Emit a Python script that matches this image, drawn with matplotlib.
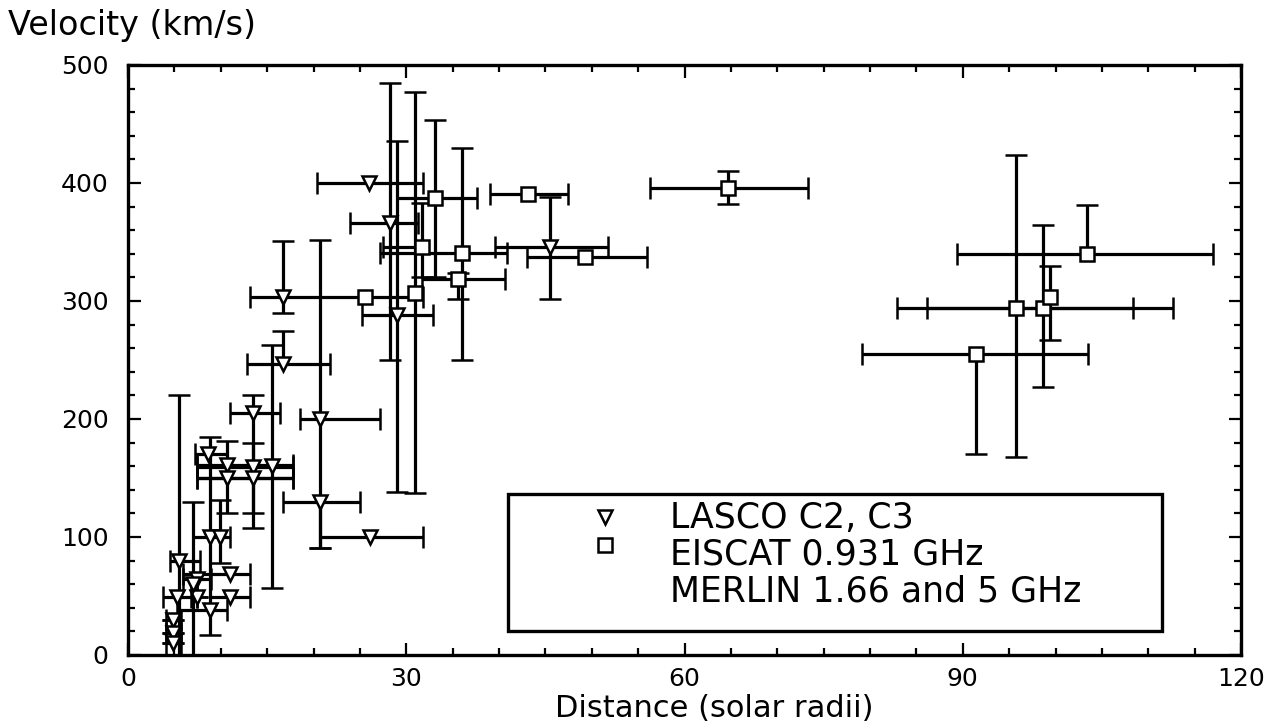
import numpy as np
import matplotlib
matplotlib.use("Agg")
import matplotlib.pyplot as plt
from matplotlib.lines import Line2D
from matplotlib.patches import Rectangle
from matplotlib.ticker import MultipleLocator

# LASCO C2, C3 (triangles): distance, velocity, asymmetric errors
lasco_x = [26.0, 28.2, 29.0, 45.5, 16.7, 16.7, 20.7, 13.5, 13.5, 13.5, 10.7, 10.7,
           15.5, 20.7, 26.1, 5.5, 8.8, 11.0, 7.4, 5.3, 7.4, 11.0, 8.8, 4.9, 4.9,
           4.9, 9.9, 7.0, 8.6]
lasco_y = [400, 366, 288, 346, 303, 247, 200, 205, 159, 150, 161, 150,
           160, 130, 100, 80, 100, 69, 64, 49, 49, 49, 38, 30, 19,
           10, 100, 60, 170]
lasco_xlo = [5.6, 4.3, 3.8, 5.9, 3.5, 3.9, 2.2, 2.5, 6.1, 6.1, 3.3, 3.3,
             0, 4.0, 5.4, 1.0, 1.8, 5.1, 1.5, 1.5, 0, 2.2, 3.5, 0.8, 0.8,
             0.8, 0, 0, 1.4]
lasco_xhi = [5.8, 3.1, 3.9, 6.3, 4.0, 5.1, 6.5, 2.9, 4.3, 4.3, 7.1, 7.1,
             0, 4.3, 5.7, 2.3, 2.2, 2.2, 1.5, 1.5, 0, 2.2, 1.9, 0.8, 0.8,
             0.8, 0, 0, 2.1]
lasco_ylo = [0, 116, 150, 44, 13, 0, 109, 0, 51, 30, 0, 30,
             103, 39, 0, 100, 83, 0, 0, 0, 0, 0, 0, 0, 0,
             0, 22, 60, 0]
lasco_yhi = [0, 119, 148, 42, 48, 28, 152, 0, 61, 30, 20, 0,
             103, 0, 0, 140, 85, 0, 0, 0, 0, 0, 0, 0, 0,
             0, 31, 70, 0]

# EISCAT (squares)
eiscat_x = [25.6, 30.9, 31.7, 36.0, 35.6, 33.1, 43.1, 49.3]
eiscat_y = [303, 307, 346, 341, 319, 387, 391, 337]
eiscat_xlo = [4.9, 0, 4.2, 8.8, 3.9, 4.1, 4.1, 6.3]
eiscat_xhi = [6.2, 0, 0, 4.9, 5.0, 4.5, 4.3, 6.7]
eiscat_ylo = [0, 170, 26, 91, 17, 67, 0, 0]
eiscat_yhi = [0, 170, 37, 89, 5, 66, 0, 0]

# MERLIN (squares)
merlin_x = [64.7, 95.7, 98.7, 99.4, 91.4, 103.4]
merlin_y = [396, 294, 294, 303, 255, 340]
merlin_xlo = [8.4, 12.8, 12.6, 0, 12.3, 14.0]
merlin_xhi = [8.6, 17.0, 9.7, 0, 12.1, 13.6]
merlin_ylo = [14, 126, 67, 36, 85, 0]
merlin_yhi = [14, 130, 70, 27, 0, 41]

legend_labels = ["LASCO C2, C3", "EISCAT 0.931 GHz", "MERLIN 1.66 and 5 GHz"]

plt.rcParams['font.family'] = ['DejaVu Sans']

fig = plt.figure(figsize=(12.7, 7.28), dpi=100)
ax = fig.add_axes([128 / 1270, 73 / 728, 1113 / 1270, 590 / 728])

common = dict(ecolor='black', elinewidth=2.3, capsize=8, capthick=2.3,
              mec='black', mfc='white', mew=1.8, linestyle='none')

ax.errorbar(lasco_x, lasco_y, xerr=[lasco_xlo, lasco_xhi], yerr=[lasco_ylo, lasco_yhi],
            marker='v', ms=10, **common)
ax.errorbar(eiscat_x, eiscat_y, xerr=[eiscat_xlo, eiscat_xhi], yerr=[eiscat_ylo, eiscat_yhi],
            marker='s', ms=10, **common)
ax.errorbar(merlin_x, merlin_y, xerr=[merlin_xlo, merlin_xhi], yerr=[merlin_ylo, merlin_yhi],
            marker='s', ms=10, **common)

ax.set_xlim(0, 120)
ax.set_ylim(0, 500)
ax.xaxis.set_major_locator(MultipleLocator(30))
ax.xaxis.set_minor_locator(MultipleLocator(5))
ax.yaxis.set_major_locator(MultipleLocator(100))
ax.yaxis.set_minor_locator(MultipleLocator(20))
ax.tick_params(which='both', direction='in', top=True, right=True, width=1.6)
ax.tick_params(which='major', length=9, labelsize=18)
ax.tick_params(axis='x', which='major', pad=9)
ax.tick_params(axis='y', which='major', pad=14)
ax.tick_params(which='minor', length=5)
for sp in ax.spines.values():
    sp.set_linewidth(2.4)

ax.set_xlabel("Distance (solar radii)", fontsize=22)
ax.xaxis.set_label_coords(0.527, -0.066)
fig.text(8 / 1270, 1 - 25 / 728, "Velocity (km/s)", fontsize=24, va='center', ha='left')

# legend box drawn by hand to match the original layout
ax.add_patch(Rectangle((0.341, 0.041), 0.588, 0.232, transform=ax.transAxes,
                       fill=True, facecolor='white', edgecolor='black', lw=2.4, zorder=5))
rows_y = [0.232, 0.170, 0.107]
handles = [Line2D([0.429], [0.234], marker='v', ms=10, mfc='white', mec='black', mew=1.8,
                  linestyle='none', transform=ax.transAxes, zorder=6),
           Line2D([0.429], [0.186], marker='s', ms=10, mfc='white', mec='black', mew=1.8,
                  linestyle='none', transform=ax.transAxes, zorder=6)]
for h in handles:
    ax.add_line(h)
for lab, yy in zip(legend_labels, rows_y):
    ax.text(0.487, yy, lab, transform=ax.transAxes, fontsize=25, va='center', ha='left', zorder=6)

fig.savefig("out.png", dpi=100, facecolor='white')
